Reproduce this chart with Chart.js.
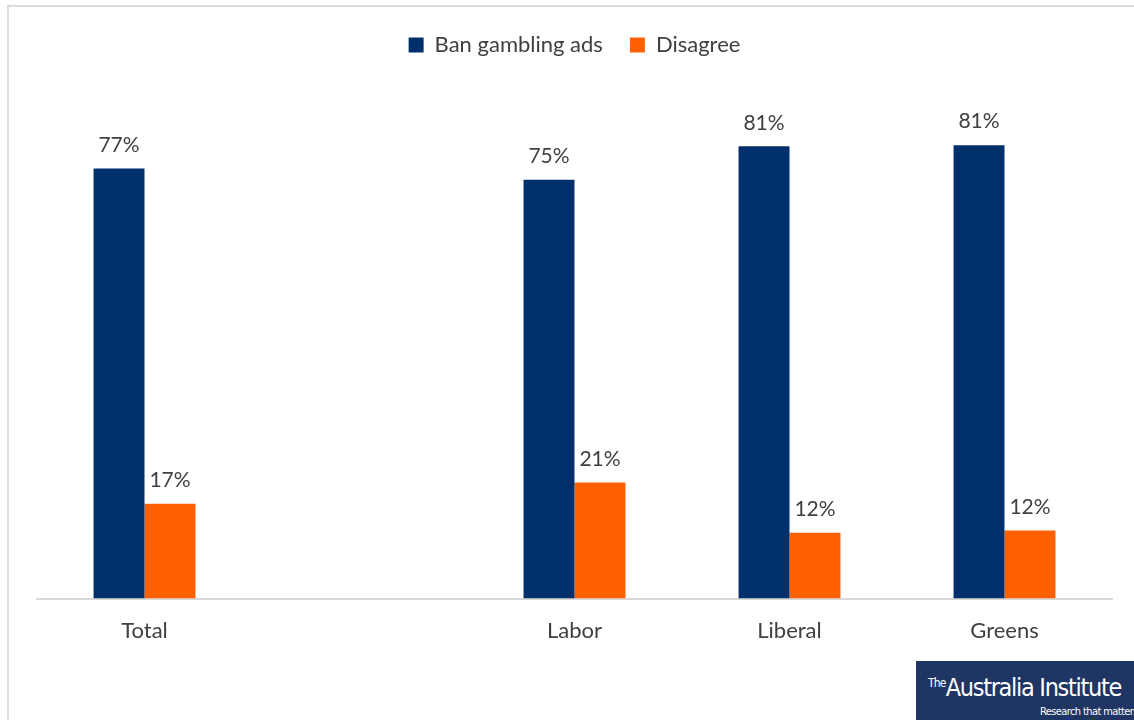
<!DOCTYPE html>
<html>
<head>
<meta charset="utf-8">
<script src="https://cdn.jsdelivr.net/npm/chart.js@4.4.0/dist/chart.umd.min.js"></script>
<style>
  body { margin: 0; background: #fff; }
  .wrap { position: relative; width: 1134px; height: 720px; overflow: hidden; }
  .frame { position: absolute; left: 7px; top: 5px; width: 1200px; height: 800px; border: 2px solid #dcdcdc; box-sizing: border-box; }
  canvas { position: absolute; left: 0; top: 0; }
  .logo { position: absolute; left: 916px; top: 661px; width: 218px; height: 59px; background: #1f3563; color: #fff; font-family: "DejaVu Sans Condensed", "DejaVu Sans", sans-serif; }
  .logo .main { position: absolute; left: 12px; top: 12px; font-size: 25px; letter-spacing: -1.3px; white-space: nowrap; }
  .logo .main sup { font-size: 12px; letter-spacing: -0.8px; vertical-align: 9px; }
  .logo .sub { position: absolute; left: 124px; top: 44px; font-size: 11px; letter-spacing: -0.6px; white-space: nowrap; }
</style>
</head>
<body>
<div class="wrap">
  <div class="frame"></div>
  <canvas id="myChart" width="1134" height="720"></canvas>
  <div class="logo"><div class="main"><sup>The</sup>Australia Institute</div><div class="sub">Research that matters</div></div>
</div>
<script>
const categories = ["Total", "", "Labor", "Liberal", "Greens"];
const banAds = [77, null, 75, 81, 81.2];
const disagree = [17, null, 20.8, 11.8, 12.2];
const seriesNames = ["Ban gambling ads", "Disagree"];

const textColor = "#404040";
const fontFamily = "Lato, 'Open Sans', sans-serif";

// percent labels above each bar
const barLabels = {
    id: "barLabels",
    afterDatasetsDraw(chart) {
        const ctx = chart.ctx;
        ctx.save();
        ctx.fillStyle = textColor;
        ctx.font = "21px " + fontFamily;
        ctx.textAlign = "center";
        ctx.textBaseline = "bottom";
        chart.data.datasets.forEach((ds, i) => {
            chart.getDatasetMeta(i).data.forEach((bar, j) => {
                if (ds.data[j] == null) return;
                ctx.fillText(Math.round(ds.data[j]) + "%", bar.x, bar.y - 13);
            });
        });
        ctx.restore();
    }
};

// make room between legend and plot
const legendSpace = {
    id: "legendSpace",
    beforeInit(chart) {
        const fit = chart.legend.fit;
        chart.legend.fit = function () {
            fit.bind(chart.legend)();
            this.height = 89;
        };
    }
};

new Chart(document.getElementById("myChart"), {
    type: "bar",
    data: {
        labels: categories,
        datasets: [
            { label: seriesNames[0], data: banAds, backgroundColor: "#00306c" },
            { label: seriesNames[1], data: disagree, backgroundColor: "#ff6000" }
        ]
    },
    options: {
        responsive: false,
        animation: false,
        layout: { padding: { left: 37, right: 22, top: 7, bottom: 57 } },
        categoryPercentage: 0.474,
        barPercentage: 1,
        plugins: {
            legend: {
                position: "top",
                labels: {
                    color: textColor,
                    font: { family: fontFamily, size: 22 },
                    boxWidth: 15,
                    boxHeight: 15,
                    padding: 27
                }
            },
            tooltip: { enabled: false }
        },
        scales: {
            x: {
                grid: { display: false, drawTicks: false },
                border: { color: "#d9d9d9", width: 2 },
                ticks: { color: textColor, font: { family: fontFamily, size: 22 }, padding: 19 }
            },
            y: {
                display: false,
                min: 0,
                max: 90
            }
        }
    },
    plugins: [barLabels, legendSpace]
});
</script>
</body>
</html>
